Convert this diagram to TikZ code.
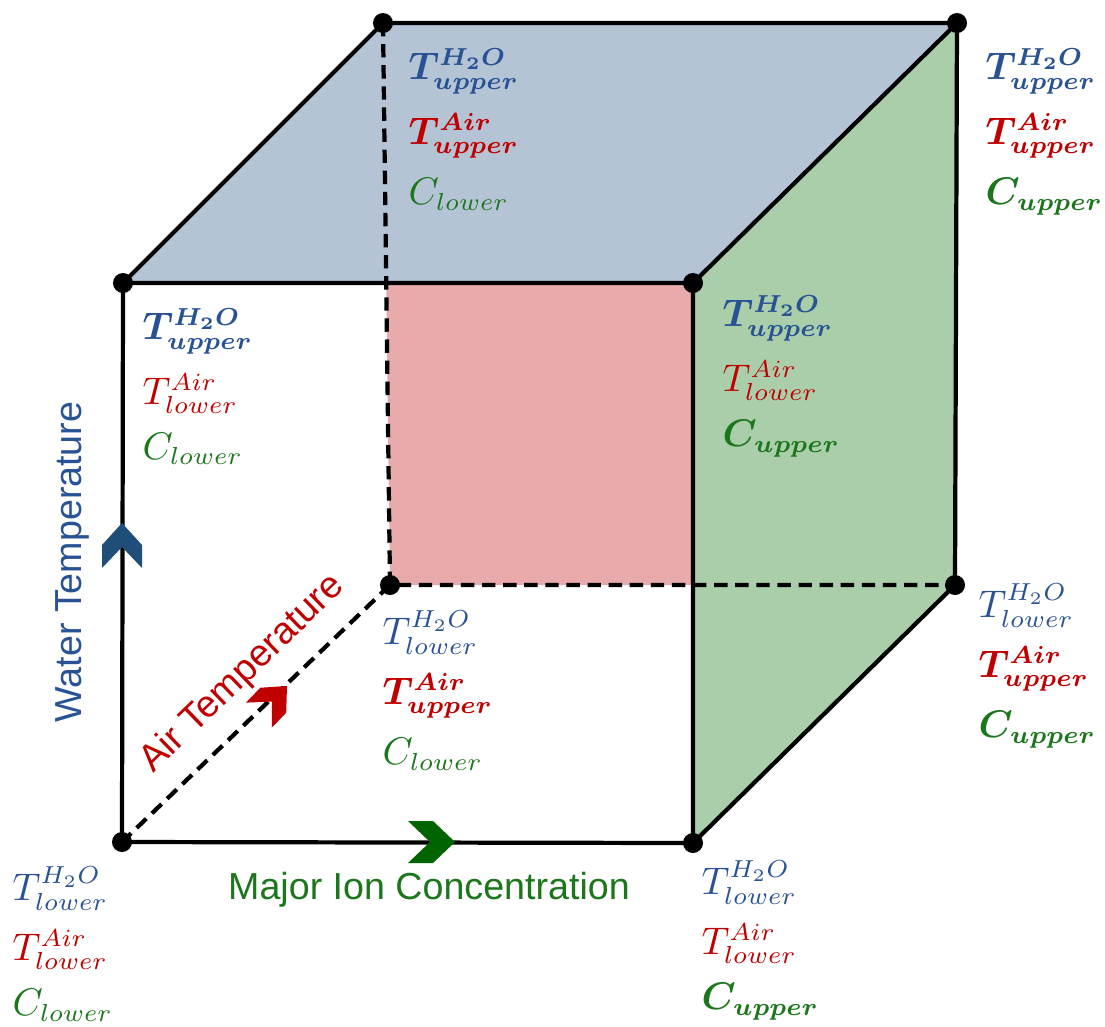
\documentclass[tikz,border=0pt]{standalone}
\usepackage{amsmath, amssymb}
\usepackage{bm}
\usepackage{fontspec}
\newfontfamily\axisfont{Liberation Sans}
\usetikzlibrary{calc}

\definecolor{h2oblue}{RGB}{40,82,148}
\definecolor{airred}{RGB}{192,0,0}
\definecolor{iongreen}{RGB}{28,118,28}
\definecolor{chevblue}{RGB}{31,78,121}
\definecolor{chevgreen}{RGB}{0,100,0}
\definecolor{topface}{RGB}{180,196,212}
\definecolor{sideface}{RGB}{170,206,170}
\definecolor{backface}{RGB}{232,170,170}

\tikzset{
  edge/.style={line width=1.2pt, line join=round},
  hidden/.style={line width=1.2pt, dash pattern=on 3.8pt off 2.2pt},
  vdot/.style={circle, fill=black, inner sep=0pt, minimum size=0.2cm},
  vlab/.style={anchor=north west, inner sep=0pt, align=left,
    font={\fontsize{10.5}{0pt}\selectfont\setlength{\lineskip}{5.5pt}\relax}},
  axlab/.style={font=\axisfont\fontsize{10.7}{12}\selectfont, inner sep=0pt},
}

\begin{document}
\begin{tikzpicture}[x=0.01cm,y=-0.01cm]
\useasboundingbox (0,0) rectangle (1105,1026);
% corners: f/b = front/back, then top/bottom, left/right
\coordinate (fbl) at (122,842);
\coordinate (fbr) at (693,843);
\coordinate (ftl) at (123,283);
\coordinate (ftr) at (693,283);
\coordinate (btl) at (383,23);
\coordinate (btr) at (957,23);
\coordinate (bbl) at (390,585);
\coordinate (bbr) at (955,585);
% shaded faces
\fill[topface] (ftl) -- (btl) -- (btr) -- (ftr) -- cycle;
\fill[sideface] (ftr) -- (btr) -- (bbr) -- (fbr) -- cycle;
\fill[backface] ($(btl)!0.4636!(bbl)$) -- (ftr) -- (ftr |- bbl) -- (bbl) -- cycle;
% edges
\draw[hidden] (btl) -- (bbl) -- (bbr);
\draw[hidden] (bbl) -- (fbl);
\draw[edge] (fbl) -- (fbr) -- (ftr) -- (ftl) -- cycle;
\draw[edge] (ftl) -- (btl) -- (btr) -- (ftr);
\draw[edge] (btr) -- (bbr) -- (fbr);
% direction chevrons on the axes
\fill[chevblue, shift={(122,523)}, rotate=90] (0,0) -- (-22,20) -- (-45,20) -- (-24,0) -- (-45,-20) -- (-22,-20) -- cycle;
\fill[chevgreen, shift={(455,842)}] (0,0) -- (-22,21) -- (-47,21) -- (-25,0) -- (-47,-21) -- (-22,-21) -- cycle;
\fill[airred, shift={(287,686)}, rotate=46, scale=0.9] (0,0) -- (-22,20) -- (-45,20) -- (-24,0) -- (-45,-20) -- (-22,-20) -- cycle;
% axis titles
\node[axlab, h2oblue, rotate=90] (water) at (72,562) {Water Temperature};
\node[axlab, airred, rotate=44] (air) at (243,674) {Air Temperature};
\node[axlab, iongreen] (ion) at (429,890) {Major Ion Concentration};
% corner dots
\foreach \c in {fbl,fbr,ftl,ftr,btl,btr,bbl,bbr}
  \node[vdot] (\c dot) at (\c) {};
% corner labels
\node[vlab] (fbl lab) at (12,866) {\textcolor{h2oblue}{$T^{H_2O}_{lower}$}\\ \textcolor{airred}{$T^{Air}_{lower}$}\\ \textcolor{iongreen}{$C_{lower}$}};
\node[vlab] (fbr lab) at (701,860) {\textcolor{h2oblue}{$T^{H_2O}_{lower}$}\\ \textcolor{airred}{$T^{Air}_{lower}$}\\ \textcolor{iongreen}{$\bm{C_{upper}}$}};
\node[vlab] (bbl lab) at (382,610) {\textcolor{h2oblue}{$T^{H_2O}_{lower}$}\\ \textcolor{airred}{$\bm{T^{Air}_{upper}}$}\\ \textcolor{iongreen}{$C_{lower}$}};
\node[vlab] (bbr lab) at (978,583) {\textcolor{h2oblue}{$T^{H_2O}_{lower}$}\\ \textcolor{airred}{$\bm{T^{Air}_{upper}}$}\\ \textcolor{iongreen}{$\bm{C_{upper}}$}};
\node[vlab] (ftl lab) at (142,308) {\textcolor{h2oblue}{$\bm{T^{H_2O}_{upper}}$}\\ \textcolor{airred}{$T^{Air}_{lower}$}\\ \textcolor{iongreen}{$C_{lower}$}};
\node[vlab] (ftr lab) at (722,295) {\textcolor{h2oblue}{$\bm{T^{H_2O}_{upper}}$}\\ \textcolor{airred}{$T^{Air}_{lower}$}\\ \textcolor{iongreen}{$\bm{C_{upper}}$}};
\node[vlab] (btl lab) at (408,48) {\textcolor{h2oblue}{$\bm{T^{H_2O}_{upper}}$}\\ \textcolor{airred}{$\bm{T^{Air}_{upper}}$}\\ \textcolor{iongreen}{$C_{lower}$}};
\node[vlab] (btr lab) at (985,48) {\textcolor{h2oblue}{$\bm{T^{H_2O}_{upper}}$}\\ \textcolor{airred}{$\bm{T^{Air}_{upper}}$}\\ \textcolor{iongreen}{$\bm{C_{upper}}$}};
\end{tikzpicture}
\end{document}
